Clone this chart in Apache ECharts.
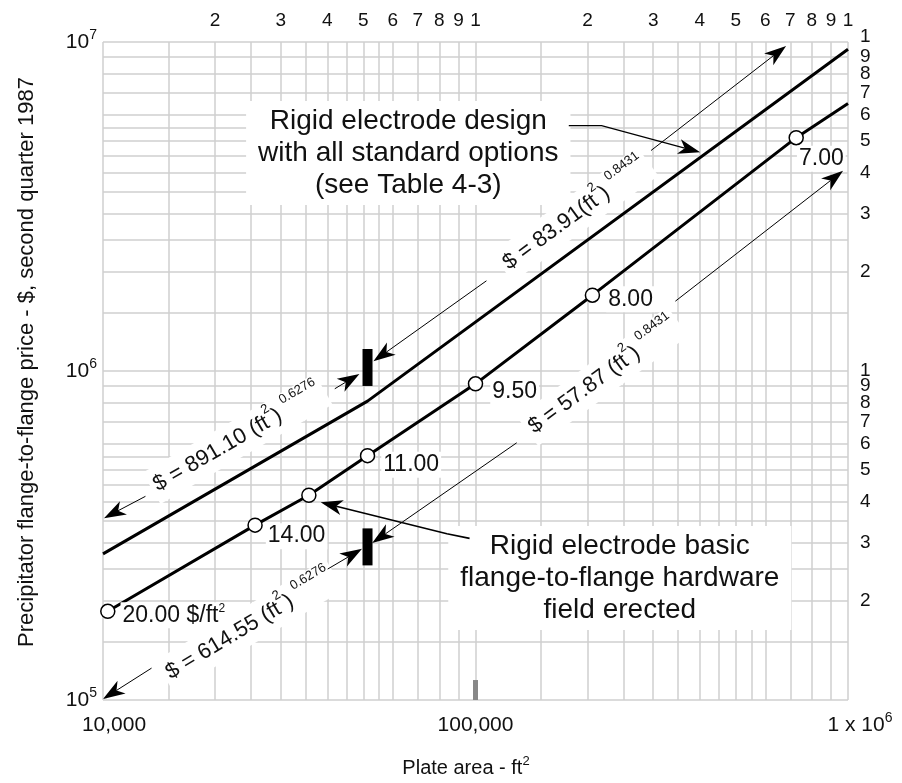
<!DOCTYPE html>
<html>
<head>
<meta charset="utf-8">
<script src="https://cdn.jsdelivr.net/npm/echarts@6/dist/echarts.min.js"></script>
<style>
html, body { margin: 0; padding: 0; background: #fff; }
#main { width: 902px; height: 783px; }
</style>
</head>
<body>
<div id="main"></div>
<script>
// plate area (ft2) / price ($)
var basicArea  = [10300, 25600, 35700, 51300, 100000, 206000, 726000, 1000000];
var basicPrice = [186000, 340000, 419000, 553000, 914000, 1700000, 5120000, 6500000];
var basicUnit  = ['20.00 $/ft{s|2}', '14.00', '', '11.00', '9.50', '8.00', '7.00', ''];
var optArea    = [10000, 51300, 1000000];
var optPrice   = [278000, 810000, 9500000];

// tick labels
var bottomTicks = [1e4, 1e5, 1e6];
var bottomText  = ['{g|}{a|10,000}', '{a|100,000}', '{G|}{a|1 x 10}{s|6}'];
var leftTicks   = [1e5, 1e6, 1e7];
var leftText    = ['{a|10}{s|5}', '{a|10}{s|6}', '{a|10}{s|7}'];
var topTicks    = [2e4, 3e4, 4e4, 5e4, 6e4, 7e4, 8e4, 9e4, 1e5, 2e5, 3e5, 4e5, 5e5, 6e5, 7e5, 8e5, 9e5, 1e6];
var topText     = ['2', '3', '4', '5', '6', '7', '8', '9', '1', '2', '3', '4', '5', '6', '7', '8', '9', '1'];
var rightTicks  = [2e5, 3e5, 4e5, 5e5, 6e5, 7e5, 8e5, 9e5, 1e6, 2e6, 3e6, 4e6, 5e6, 6e6, 7e6, 8e6, 9e6, 1e7];
var rightText   = ['2', '3', '4', '5', '6', '7', '8', '9', '1', '2', '3', '4', '5', '6', '7', '8', '9', '1'];
var gridSteps   = [1, 1.5, 2, 2.5, 3, 3.5, 4, 4.5, 5, 5.5, 6, 7, 8, 9];

var FONT = "'Liberation Sans', Arial, Helvetica, sans-serif";
var INK = '#111';

function pick(ticks, texts, v) {
  for (var i = 0; i < ticks.length; i++) {
    if (Math.abs(Math.log10(ticks[i]) - Math.log10(v)) < 1e-6) return texts[i];
  }
  return '';
}

var gridLines = [];
[1e4, 1e5].forEach(function (d) {
  gridSteps.forEach(function (s) { gridLines.push({ xAxis: d * s }); });
});
gridLines.push({ xAxis: 1e6 });
[1e5, 1e6].forEach(function (d) {
  gridSteps.forEach(function (s) { gridLines.push({ yAxis: d * s }); });
});
gridLines.push({ yAxis: 1e7 });

var supRich = {
  a: { fontSize: 21, lineHeight: 28, fontFamily: FONT, color: INK },
  s: { fontSize: 14, lineHeight: 14, verticalAlign: 'top', fontFamily: FONT, color: INK },
  g: { width: 22, height: 1 },
  G: { width: 24, height: 1 }
};

// label placement next to each marker
var labelOffsets = [[0, 4], [-2, 11], [0, 0], [1, 9], [2, 8], [1, 4], [-12, 21], [0, 0]];

var basicData = basicArea.map(function (a, i) {
  var item = { value: [a, basicPrice[i]] };
  if (i === basicArea.length - 1) item.symbol = 'none';
  if (basicUnit[i]) {
    var txt = basicUnit[i].indexOf('{s|') >= 0 ? '{a|' + basicUnit[i].replace('{s|', '}{s|') : '{a|' + basicUnit[i] + '}';
    item.label = {
      show: true, position: 'right', offset: labelOffsets[i],
      formatter: txt,
      backgroundColor: '#fff', padding: [0, 2],
      rich: {
        a: { fontSize: 23, lineHeight: 26, fontFamily: FONT, color: INK },
        s: { fontSize: 12, lineHeight: 10, verticalAlign: 'top', fontFamily: FONT, color: INK }
      }
    };
  }
  return item;
});

var chart = echarts.init(document.getElementById('main'));

chart.setOption({
  animation: false,
  backgroundColor: '#fff',
  grid: { left: 103, right: 54, top: 42, bottom: 83 },
  xAxis: [{
    type: 'log', min: 1e4, max: 1e6, position: 'bottom',
    axisLine: { show: false }, axisTick: { show: false }, splitLine: { show: false },
    axisLabel: {
      customValues: bottomTicks, margin: 11, showMinLabel: true, showMaxLabel: true,
      formatter: function (v) { return pick(bottomTicks, bottomText, v); },
      rich: supRich
    }
  }, {
    type: 'log', min: 1e4, max: 1e6, position: 'top',
    axisLine: { show: false }, axisTick: { show: false }, splitLine: { show: false },
    axisLabel: {
      customValues: topTicks, margin: 12, fontSize: 19, color: INK, fontFamily: FONT,
      showMinLabel: true, showMaxLabel: true,
      formatter: function (v) { return pick(topTicks, topText, v); }
    }
  }],
  yAxis: [{
    type: 'log', min: 1e5, max: 1e7, position: 'left',
    axisLine: { show: false }, axisTick: { show: false }, splitLine: { show: false },
    axisLabel: {
      customValues: leftTicks, margin: 6, showMinLabel: true, showMaxLabel: true,
      formatter: function (v) { return pick(leftTicks, leftText, v); },
      rich: supRich
    }
  }, {
    type: 'log', min: 1e5, max: 1e7, position: 'right',
    axisLine: { show: false }, axisTick: { show: false }, splitLine: { show: false },
    axisLabel: {
      // the top "1" sits above its neighbour "9"; it is drawn separately below
      customValues: rightTicks, margin: 12, fontSize: 19, color: INK, fontFamily: FONT,
      showMinLabel: true, showMaxLabel: false,
      formatter: function (v) { return pick(rightTicks, rightText, v); }
    }
  }],
  series: [{
    name: 'standard options',
    type: 'line',
    z: 5,
    data: optArea.map(function (a, i) { return [a, optPrice[i]]; }),
    symbol: 'none',
    lineStyle: { color: '#000', width: 3 },
    markLine: {
      z: 1, silent: true, symbol: ['none', 'none'], animation: false,
      label: { show: false },
      lineStyle: { color: '#cfcfcf', width: 1.5, type: 'solid' },
      emphasis: { disabled: true },
      data: gridLines
    }
  }, {
    name: 'basic hardware',
    type: 'line',
    z: 5,
    data: basicData,
    symbol: 'circle', symbolSize: 14,
    itemStyle: { color: '#fff', borderColor: '#000', borderWidth: 1.5 },
    lineStyle: { color: '#000', width: 3 }
  }]
});

function P(d) { return chart.convertToPixel({ xAxisIndex: 0, yAxisIndex: 0 }, d); }

function angleOf(a, b) {
  var p = P(a), q = P(b);
  return Math.atan2(p[1] - q[1], q[0] - p[0]);
}

function arrow(pts, lw) {
  var px = pts.map(P);
  var tip = px[px.length - 1], prev = px[px.length - 2];
  var dx = tip[0] - prev[0], dy = tip[1] - prev[1];
  var len = Math.sqrt(dx * dx + dy * dy);
  var ux = dx / len, uy = dy / len, nx = -uy, ny = ux;
  var L = 22, W = 15;
  var bx = tip[0] - ux * L, by = tip[1] - uy * L;
  var notch = [tip[0] - ux * (L - 6), tip[1] - uy * (L - 6)];
  var linePts = px.slice(0, -1).concat([notch]);
  return [{
    type: 'polyline', z: 6, silent: true,
    shape: { points: linePts },
    style: { stroke: '#000', lineWidth: lw, fill: null }
  }, {
    type: 'polygon', z: 6, silent: true,
    shape: { points: [tip, [bx + nx * W / 2, by + ny * W / 2], notch, [bx - nx * W / 2, by - ny * W / 2]] },
    style: { fill: '#000' }
  }];
}

function equation(start, rot, main, exp) {
  var p = P(start);
  return {
    type: 'text', z: 3, silent: true,
    x: p[0], y: p[1], rotation: rot,
    style: {
      text: '{m|' + main + '}{s|2}{m|)}{e|' + exp + '}',
      align: 'left', verticalAlign: 'middle',
      backgroundColor: '#fff', padding: [0, 4],
      rich: {
        m: { fontSize: 22, lineHeight: 36, fontFamily: FONT, fill: INK },
        s: { fontSize: 13, lineHeight: 22, verticalAlign: 'top', fontFamily: FONT, fill: INK },
        e: { fontSize: 13, lineHeight: 12, verticalAlign: 'top', fontFamily: FONT, fill: INK, padding: [0, 0, 0, 6] }
      }
    }
  };
}

function bar(center) {
  var p = P(center);
  return { type: 'rect', z: 6, silent: true, shape: { x: p[0] - 5, y: p[1] - 18.5, width: 10, height: 37 }, style: { fill: '#000' } };
}

function callout(center, text) {
  var p = P(center);
  return {
    type: 'text', z: 3, silent: true, x: p[0], y: p[1],
    style: {
      text: text, align: 'center', verticalAlign: 'middle',
      fontSize: 28, lineHeight: 32, fontFamily: FONT, fill: INK,
      backgroundColor: '#fff', padding: [4, 12]
    }
  };
}

var n = basicArea.length;
var rotSteepOpt  = angleOf([optArea[1], optPrice[1]], [optArea[2], optPrice[2]]);
var rotFlatOpt   = angleOf([optArea[0], optPrice[0]], [optArea[1], optPrice[1]]);
var rotSteepBase = angleOf([basicArea[3], basicPrice[3]], [basicArea[n - 1], basicPrice[n - 1]]);
var rotFlatBase  = angleOf([basicArea[0], basicPrice[0]], [basicArea[3], basicPrice[3]]);

var markTop = P([1e5, 1.15e5]), markBot = P([1e5, 1e5]);
var topRight = P([1e6, rightTicks[rightTicks.length - 1]]);

var elements = [
  callout([66000, 4.6e6], 'Rigid electrode design\nwith all standard options\n(see Table 4-3)'),
  callout([2.44e5, 2.35e5], 'Rigid electrode basic\nflange-to-flange hardware\nfield erected'),
  equation([1.18e5, 2.06e6], rotSteepOpt, '$ = 83.91(ft', '0.8431'),
  equation([1.35e4, 4.40e5], rotFlatOpt, '$ = 891.10 (ft', '0.6276'),
  equation([1.38e5, 6.55e5], rotSteepBase, '$ = 57.87 (ft', '0.8431'),
  equation([1.46e4, 1.18e5], rotFlatBase, '$ = 614.55 (ft', '0.6276'),
  bar([51300, 1.025e6]),
  bar([51300, 2.92e5]),
  {
    type: 'rect', z: 6, silent: true,
    shape: { x: markTop[0] - 2.5, y: markTop[1], width: 5, height: markBot[1] - markTop[1] },
    style: { fill: '#888' }
  },
  {
    type: 'text', z: 3, silent: true, x: topRight[0] + 12, y: topRight[1] - 5,
    style: {
      text: rightText[rightText.length - 1], align: 'left', verticalAlign: 'middle',
      fontSize: 19, fontFamily: FONT, fill: INK
    }
  },
  {
    type: 'text', z: 3, silent: true, x: 27, y: 362, rotation: Math.PI / 2,
    style: {
      text: 'Precipitator flange-to-flange price - $, second quarter 1987',
      align: 'center', verticalAlign: 'middle', fontSize: 22, fontFamily: FONT, fill: INK
    }
  },
  {
    type: 'text', z: 3, silent: true, x: 466, y: 768,
    style: {
      text: '{a|Plate area - ft}{s|2}', align: 'center', verticalAlign: 'middle',
      rich: {
        a: { fontSize: 20, lineHeight: 26, fontFamily: FONT, fill: INK },
        s: { fontSize: 13, lineHeight: 14, verticalAlign: 'top', fontFamily: FONT, fill: INK }
      }
    }
  }
];

elements = elements
  .concat(arrow([[1.78e5, 5.57e6], [2.18e5, 5.57e6], [4.01e5, 4.62e6]], 1.2))
  .concat(arrow([[9.64e4, 3.10e5], [8.38e4, 3.20e5], [3.84e4, 3.99e5]], 1.6))
  .concat(arrow([[2.96e5, 4.68e6], [6.82e5, 9.73e6]], 1))
  .concat(arrow([[1.07e5, 1.88e6], [5.32e4, 1.07e6]], 1))
  .concat(arrow([[1.30e4, 4.16e5], [1.006e4, 3.57e5]], 1))
  .concat(arrow([[4.19e4, 8.83e5], [4.88e4, 9.8e5]], 1))
  .concat(arrow([[3.44e5, 1.63e6], [9.7e5, 4.06e6]], 1))
  .concat(arrow([[1.29e5, 6.05e5], [5.28e4, 3.0e5]], 1))
  .concat(arrow([[1.35e4, 1.25e5], [1.0e4, 1.007e5]], 1))
  .concat(arrow([[4.01e4, 2.5e5], [4.96e4, 2.88e5]], 1));

chart.setOption({ graphic: { elements: elements } });
</script>
</body>
</html>
